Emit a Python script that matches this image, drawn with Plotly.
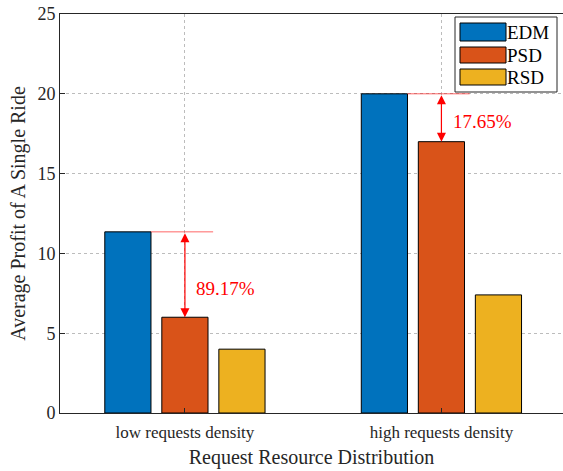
import plotly.graph_objects as go

categories = ["low requests density", "high requests density"]
series_names = ["EDM", "PSD", "RSD"]
edm = [11.35, 20.0]
psd = [6.0, 17.0]
rsd = [4.0, 7.4]
gap_labels = ["89.17%", "17.65%"]
gap_label_y = [7.83, 18.25]
colors = ["#0072BD", "#D95319", "#EDB120"]

xpos = [1, 2]
values = [edm, psd, rsd]
FONT = "Liberation Serif, Times New Roman, Times, serif"

fig = go.Figure()
for name, vals, c in zip(series_names, values, colors):
    fig.add_trace(go.Bar(x=xpos, y=vals, name=name, marker=dict(color=c, line=dict(color="black", width=1)),
                         showlegend=False, hoverinfo="skip"))

fig.update_layout(
    width=563, height=471,
    margin=dict(l=60, r=0, t=14, b=58),
    paper_bgcolor="white", plot_bgcolor="white",
    barmode="group", bargap=0.333, bargroupgap=0.19,
    font=dict(family=FONT, size=17, color="#262626"),
)
fig.update_xaxes(range=[0.513, 2.474], tickvals=xpos, ticktext=categories,
                 showline=True, linecolor="#262626", linewidth=1, mirror=True,
                 ticks="inside", ticklen=5, tickcolor="#262626",
                 showgrid=True, gridcolor="#bcbcbc", griddash="dot", gridwidth=1,
                 zeroline=False, tickfont=dict(size=17), ticklabelstandoff=4,
                 title=dict(text="Request Resource Distribution", font=dict(size=20), standoff=8))
fig.update_yaxes(range=[0, 25], tickvals=[0, 5, 10, 15, 20, 25],
                 showline=True, linecolor="#262626", linewidth=1,
                 ticks="inside", ticklen=5, tickcolor="#262626",
                 showgrid=True, gridcolor="#bcbcbc", griddash="dot", gridwidth=1,
                 zeroline=False, tickfont=dict(size=18),
                 title=dict(text="Average Profit of A Single Ride", font=dict(size=20), standoff=6))

slot = (1 - 0.333) / 3
for i, x in enumerate(xpos):
    top = edm[i]
    low = psd[i]
    x_edm_right = x - slot + slot * (1 - 0.19) / 2
    fig.add_shape(type="line", xref="x", yref="y", x0=x_edm_right, x1=x + 0.11,
                  y0=top, y1=top, line=dict(color="rgba(255,0,0,0.6)", width=1))
    fig.add_annotation(x=x, y=low, ax=x, ay=top, xref="x", yref="y", axref="x", ayref="y",
                       text="", showarrow=True, arrowhead=2, arrowside="end+start",
                       arrowsize=1.5, arrowwidth=1.2, arrowcolor="red")
    fig.add_annotation(x=x + 0.036, y=gap_label_y[i], xref="x", yref="y",
                       text=gap_labels[i], showarrow=False, xanchor="left", yanchor="middle",
                       font=dict(color="red", size=19, family=FONT))

fig.add_shape(type="rect", xref="paper", yref="paper",
              x0=(455 - 60) / 503, x1=(557 - 60) / 503,
              y0=(413 - 92) / 399, y1=(413 - 17) / 399,
              line=dict(color="#262626", width=1), fillcolor="white")
rows = [(23, 41), (47, 63), (69, 85)]
for (ya, yb), name, c in zip(rows, series_names, colors):
    fig.add_shape(type="rect", xref="paper", yref="paper",
                  x0=(460 - 60) / 503, x1=(506 - 60) / 503,
                  y0=(413 - yb) / 399, y1=(413 - ya) / 399,
                  line=dict(color="black", width=1), fillcolor=c)
    fig.add_annotation(x=(505 - 60) / 503, y=(413 - (ya + yb) / 2) / 399, xref="paper", yref="paper",
                       text=name, showarrow=False, xanchor="left", yanchor="middle",
                       font=dict(size=19, family=FONT, color="black"))

fig.write_html("out.html", config={"displayModeBar": False},
               post_script="document.body.style.margin='0';document.body.style.overflow='hidden';")
